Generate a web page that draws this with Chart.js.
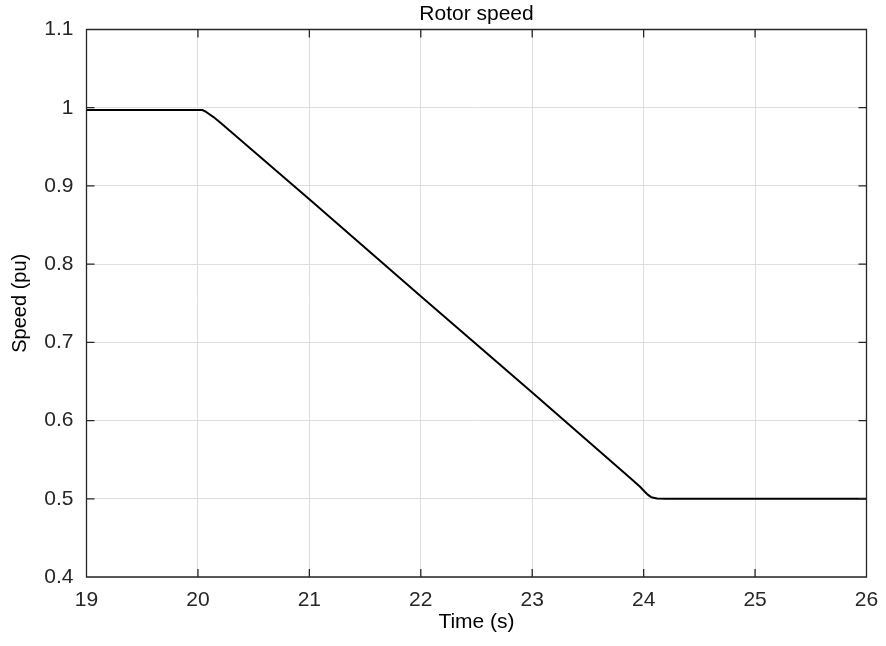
<!DOCTYPE html>
<html>
<head>
<meta charset="utf-8">
<script src="https://cdn.jsdelivr.net/npm/chart.js@4/dist/chart.umd.min.js"></script>
<style>
html,body{margin:0;padding:0;background:#fff;}
#wrap{width:886px;height:646px;}
</style>
</head>
<body>
<div id="wrap"><canvas id="c" width="886" height="646"></canvas></div>
<script>
const titleText = "Rotor speed";
const xTitle = "Time (s)";
const yTitle = "Speed (pu)";
const xTicks = [19, 20, 21, 22, 23, 24, 25, 26];
const yTicks = [0.4, 0.5, 0.6, 0.7, 0.8, 0.9, 1.0, 1.1];
const timeS = [19, 20.0, 20.04, 20.07, 20.1, 20.14, 20.2, 21.0, 22.0, 23.0, 23.9, 23.97, 24.01, 24.04, 24.07, 24.12, 24.2, 25.0, 26.0];
const speedPu = [0.997, 0.997, 0.997, 0.995, 0.992, 0.988, 0.981, 0.883, 0.759, 0.636, 0.524, 0.515, 0.509, 0.505, 0.502, 0.5005, 0.5, 0.5, 0.5];

const FONT = "'Liberation Sans', Arial, Helvetica, sans-serif";
const AXC = '#262626';

const boxTicks = {
  id: 'boxTicks',
  afterDraw(chart) {
    const ctx = chart.ctx, a = chart.chartArea;
    const xs = chart.scales.x, ys = chart.scales.y;
    const L = 8;
    ctx.save();
    ctx.strokeStyle = AXC;
    ctx.lineWidth = 1.3;
    ctx.beginPath();
    ctx.rect(a.left, a.top, a.right - a.left, a.bottom - a.top);
    xTicks.forEach(v => {
      const p = xs.getPixelForValue(v);
      ctx.moveTo(p, a.bottom); ctx.lineTo(p, a.bottom - L);
      ctx.moveTo(p, a.top); ctx.lineTo(p, a.top + L);
    });
    yTicks.forEach(v => {
      const p = ys.getPixelForValue(v);
      ctx.moveTo(a.left, p); ctx.lineTo(a.left + L, p);
      ctx.moveTo(a.right, p); ctx.lineTo(a.right - L, p);
    });
    ctx.stroke();
    ctx.restore();
  }
};

new Chart(document.getElementById('c'), {
  type: 'line',
  data: {
    datasets: [{
      data: timeS.map((t, i) => ({x: t, y: speedPu[i]})),
      borderColor: '#000',
      borderWidth: 2,
      pointRadius: 0,
      tension: 0,
      fill: false
    }]
  },
  options: {
    responsive: false,
    animation: false,
    layout: {padding: {left: 0, right: 19.5, top: 0, bottom: 0}},
    plugins: {
      legend: {display: false},
      tooltip: {enabled: false},
      title: {
        display: true,
        fullSize: false,
        text: titleText,
        color: '#000',
        font: {family: FONT, size: 21, weight: 'normal'},
        padding: {top: 1.5, bottom: 2.8}
      }
    },
    scales: {
      x: {
        type: 'linear',
        min: 19, max: 26,
        afterBuildTicks: s => { s.ticks = xTicks.map(v => ({value: v})); },
        afterFit: s => { s.height = 69; s.paddingLeft = 0; s.paddingRight = 0; },
        grid: {color: '#dedede', lineWidth: 1, drawTicks: false},
        border: {display: false},
        ticks: {
          color: AXC, padding: 11, maxRotation: 0,
          font: {family: FONT, size: 21},
          callback: v => String(v)
        },
        title: {
          display: true, text: xTitle, color: '#000',
          font: {family: FONT, size: 21},
          padding: {top: 0, bottom: 11}
        }
      },
      y: {
        type: 'linear',
        min: 0.4, max: 1.1,
        afterBuildTicks: s => { s.ticks = yTicks.map(v => ({value: v})); },
        afterFit: s => { s.width = 86.5; },
        grid: {color: '#dedede', lineWidth: 1, drawTicks: false},
        border: {display: false},
        ticks: {
          color: AXC, padding: 13,
          font: {family: FONT, size: 21},
          callback: v => (Math.abs(v - 1) < 1e-9 ? '1' : v.toFixed(1))
        },
        title: {
          display: true, text: yTitle, color: '#000',
          font: {family: FONT, size: 20},
          padding: {top: 8, bottom: 0}
        }
      }
    }
  },
  plugins: [boxTicks]
});
</script>
</body>
</html>
